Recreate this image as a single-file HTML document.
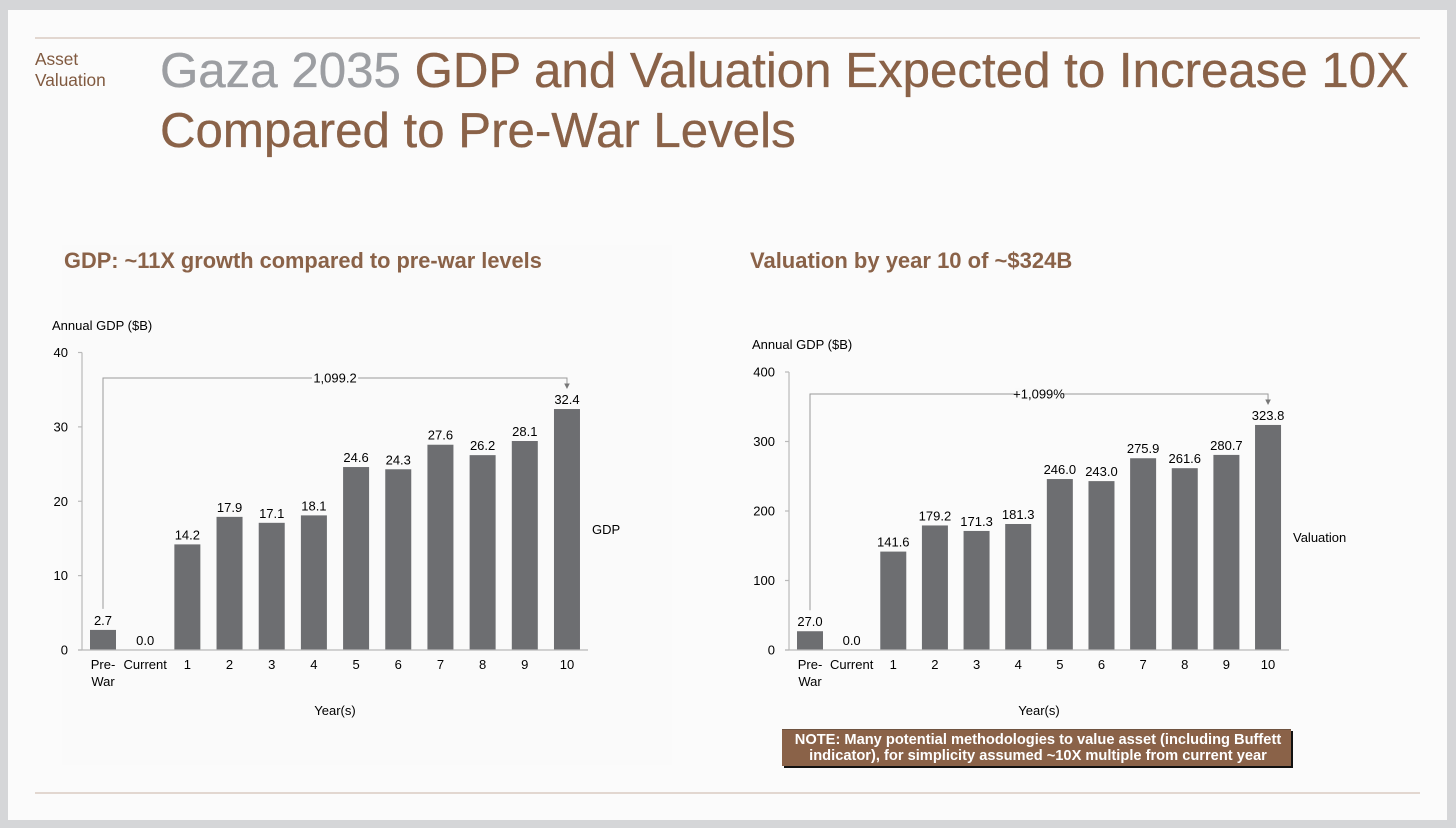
<!DOCTYPE html>
<html lang="en">
<head>
<meta charset="utf-8">
<title>Gaza 2035 GDP and Valuation</title>
<style>
html,body{margin:0;padding:0;background:#d5d6d8;}
body{width:1456px;height:828px;overflow:hidden;position:relative;font-family:"Liberation Sans",sans-serif;}
#panel{position:absolute;left:8px;top:10px;width:1439px;height:810px;background:#fbfbfb;}
#inner{position:absolute;left:62px;top:245px;width:610px;height:520px;background:#fafafa;}
.rule{position:absolute;left:35px;width:1385px;height:2px;background:#e2d7d0;}
.abs{position:absolute;white-space:nowrap;}
#section{left:35px;top:49px;font-size:17.3px;line-height:21px;color:#80593f;}
#title{left:160px;top:41px;font-size:49.24px;line-height:60px;color:#8a6248;-webkit-text-stroke:.35px currentColor;}
#title span{color:#9c9ea2;}
.sub{top:248px;font-size:21.9px;font-weight:bold;line-height:26px;color:#8a6248;}
#note{left:782px;top:729px;width:509px;height:37px;background:#8a6248;box-shadow:2px 2px 0 #111;border-top:1px solid #6f5340;box-sizing:border-box;color:#fff;font-size:14.65px;font-weight:bold;line-height:16px;text-align:center;padding:2px 0 0 3px;}
svg{position:absolute;left:0;top:0;}
svg text{font-family:"Liberation Sans",sans-serif;font-size:13px;fill:#000;}
</style>
</head>
<body>
<div id="panel"></div>
<div id="inner"></div>
<div class="rule" style="top:37px"></div>
<div class="rule" style="top:792px"></div>
<div class="abs" id="section">Asset<br>Valuation</div>
<div class="abs" id="title"><span>Gaza 2035</span> GDP and Valuation Expected to Increase 10X<br>Compared to Pre-War Levels</div>
<div class="abs sub" style="left:64px;font-size:21.8px">GDP: ~11X growth compared to pre-war levels</div>
<div class="abs sub" style="left:750px;font-size:22px">Valuation by year 10 of ~$324B</div>
<svg id="chart" width="1456" height="828"></svg>
<div class="abs" id="note">NOTE: Many potential methodologies to value asset (including Buffett<br>indicator), for simplicity assumed ~10X multiple from current year</div>
<script>
var categories = ['Pre-War', 'Current', '1', '2', '3', '4', '5', '6', '7', '8', '9', '10'];
var gdpValues = [2.7, 0.0, 14.2, 17.9, 17.1, 18.1, 24.6, 24.3, 27.6, 26.2, 28.1, 32.4];
var valuationValues = [27.0, 0.0, 141.6, 179.2, 171.3, 181.3, 246.0, 243.0, 275.9, 261.6, 280.7, 323.8];
var gdpTicks = [0, 10, 20, 30, 40];
var valuationTicks = [0, 100, 200, 300, 400];
var gdpCallout = '1,099.2';
var valuationCallout = '+1,099%';

var svg = document.getElementById('chart');
var NS = 'http://www.w3.org/2000/svg';

function add(tag, attrs, text) {
  var el = document.createElementNS(NS, tag);
  for (var k in attrs) el.setAttribute(k, attrs[k]);
  if (text !== undefined) el.textContent = text;
  svg.appendChild(el);
  return el;
}

function drawChart(cfg) {
  var maxTick = Math.max.apply(null, cfg.ticks);
  function xPos(i) { return cfg.firstX + i * cfg.step; }
  function yPos(v) { return cfg.baseY - (v / maxTick) * (cfg.baseY - cfg.topY); }
  var axisColor = '#b9b9b9';

  var yAxis = add('line', {x1: cfg.axisX, x2: cfg.axisX, y1: yPos(maxTick), y2: cfg.baseY, stroke: axisColor, 'stroke-width': 1.2});
  
  

  cfg.ticks.forEach(function (t) {
    var tick = add('line', {x1: cfg.axisX - 4, x2: cfg.axisX, y1: yPos(t), y2: yPos(t), stroke: axisColor, 'stroke-width': 1.2});
    
    
    var lab = add('text', {x: cfg.axisX - 14, y: yPos(t) + 4.5, 'text-anchor': 'end'}, String(t));
    
    
  });

  cfg.values.forEach(function (v, i) {
    var h = cfg.baseY - yPos(v);
    var bar = add('rect', {x: xPos(i) - 13, y: yPos(v), width: 26, height: h, fill: '#6d6e71'});
    
    
    var val = add('text', {x: xPos(i), y: yPos(v) - 5, 'text-anchor': 'middle'}, v.toFixed(1));
    
    
    var lines = categories[i].indexOf('-') > 0 ? ['Pre-', 'War'] : [categories[i]];
    lines.forEach(function (line, n) {
      var cat = add('text', {x: xPos(i), y: cfg.baseY + 19 + n * 17, 'text-anchor': 'middle'}, line);
      
      
    });
  });

  var xAxis = add('line', {x1: cfg.axisX - 4, x2: cfg.axisEnd, y1: cfg.baseY, y2: cfg.baseY, stroke: axisColor, 'stroke-width': 1.2});
  
  

  var x0 = xPos(0), x1 = xPos(cfg.values.length - 1);
  var path = add('path', {d: 'M' + x0 + ' ' + (yPos(cfg.values[0]) - 21) + 'V' + cfg.calloutY + 'H' + x1 + 'V' + (cfg.calloutY + 7), fill: 'none', stroke: '#9a9a9a', 'stroke-width': 1});
  
  
  var arrow = add('path', {d: 'M' + (x1 - 2.8) + ' ' + (cfg.calloutY + 5.5) + 'h5.6l-2.8 5.5z', fill: '#777'});
  
  

  var lw = cfg.callout.length * 6.6;
  var mid = cfg.calloutX;
  var bg = add('rect', {x: mid - lw / 2, y: cfg.calloutY - 6, width: lw, height: 12, fill: '#fafafa'});
  
  
  var c = add('text', {x: mid, y: cfg.calloutY + 4.5, 'text-anchor': 'middle'}, cfg.callout);
  
  

  var yTitle = add('text', {x: cfg.yTitleX, y: cfg.yTitleY}, 'Annual GDP ($B)');
  
  
  var xTitle = add('text', {x: cfg.xTitleX, y: 715, 'text-anchor': 'middle'}, 'Year(s)');
  
  
  var legend = add('text', {x: cfg.legendX, y: cfg.legendY}, cfg.legend);
  
  
}

drawChart({id: 'gdp', values: gdpValues, ticks: gdpTicks, callout: gdpCallout,
  firstX: 103, step: 42.18, axisX: 82, axisEnd: 588, baseY: 650, topY: 352.5,
  calloutY: 378, calloutX: 335, yTitleX: 52, yTitleY: 330, xTitleX: 335,
  legend: 'GDP', legendX: 592, legendY: 534});
drawChart({id: 'valuation', values: valuationValues, ticks: valuationTicks, callout: valuationCallout,
  firstX: 810, step: 41.64, axisX: 789, axisEnd: 1289, baseY: 650, topY: 372,
  calloutY: 394, calloutX: 1039, yTitleX: 752, yTitleY: 349, xTitleX: 1039,
  legend: 'Valuation', legendX: 1293, legendY: 542});
</script>
</body>
</html>
